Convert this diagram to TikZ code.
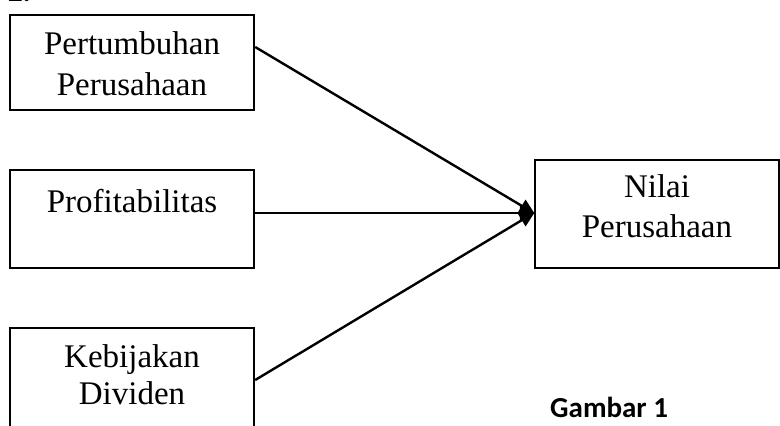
\documentclass[tikz,border=0pt]{standalone}
\usepackage{fontspec}
\setmainfont{Liberation Serif}
\newfontfamily\capfont{Carlito}
\usetikzlibrary{arrows.meta}
\tikzset{
  box/.style={draw, line width=2.4pt, minimum width=244pt, inner sep=0pt, anchor=center},
  txt/.style={anchor=base, inner sep=0pt, font=\fontsize{33}{41}\selectfont},
  link/.style={line width=2.4pt, -{Triangle[length=15pt,width=14pt]}, shorten >=-1pt}
}
\begin{document}
\begin{tikzpicture}[x=1pt,y=-1pt]
\useasboundingbox (0,0) rectangle (780,426);
\clip (0,0) rectangle (780,426);
\fill[white] (0,0) rectangle (780,426);
\node[anchor=base west, inner sep=0pt, font=\capfont\bfseries\fontsize{29}{34}\selectfont] (num) at (8,1.5) {2.};
\node[box, minimum height=95pt] (b1) at (132,62.5) {};
\node[box, minimum height=98pt] (b2) at (132,219) {};
\node[box, minimum height=112pt] (b3) at (132,384) {};
\node[box, minimum height=108pt] (b4) at (657,214) {};
\node[txt] (t1a) at (132,54) {Pertumbuhan};
\node[txt] (t1b) at (132,95) {Perusahaan};
\node[txt] (t2) at (132,212) {Profitabilitas};
\node[txt] (t3a) at (132,367) {Kebijakan};
\node[txt] (t3b) at (132,404) {Dividen};
\node[txt] (t4a) at (657,197) {Nilai};
\node[txt] (t4b) at (657,237) {Perusahaan};
\node[anchor=base west, inner sep=0pt, font=\capfont\bfseries\fontsize{29}{34}\selectfont] (cap) at (550,417) {Gambar 1};
\draw[link] ([yshift=15.5pt]b1.east) -- ([yshift=1pt]b4.west);
\draw[link] ([yshift=6pt]b2.east) -- ([yshift=1pt]b4.west);
\draw[link] ([yshift=4pt]b3.east) -- ([yshift=1pt]b4.west);
\end{tikzpicture}
\end{document}
